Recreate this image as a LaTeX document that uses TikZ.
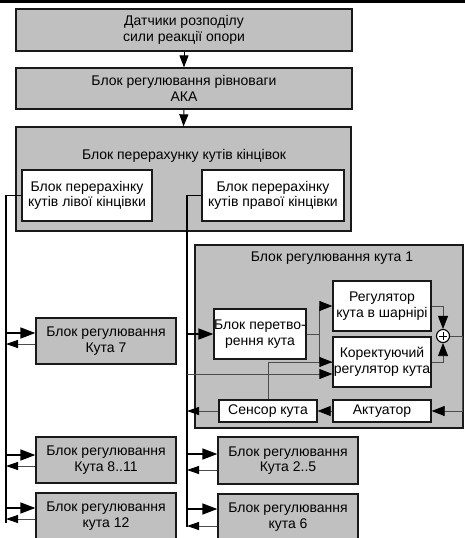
\documentclass[tikz,border=0pt]{standalone}
\usepackage{fontspec}
\setmainfont{Liberation Sans}
\usetikzlibrary{arrows.meta,calc}
\begin{document}
\begin{tikzpicture}[x=1pt,y=-1pt,
  font=\fontsize{14}{15.5}\selectfont,
  gbox/.style={draw=black!90,line width=1.3pt,fill=boxgray,inner sep=0pt,align=center},
  wbox/.style={draw=black!90,line width=1.3pt,fill=white,inner sep=0pt,align=center},
  mainln/.style={line width=1.6pt,black},
  thinln/.style={line width=0.8pt,black!70},
  arr/.style={-{Triangle[length=15pt,width=11pt,black]}},
  rarr/.style={-{Triangle[length=12pt,width=8pt,black]}},
  iarr/.style={-{Triangle[length=13pt,width=10pt,black]}}
]
\definecolor{boxgray}{HTML}{C0C0C0}
\useasboundingbox (0,0) rectangle (465,538);
\clip (0,0) rectangle (465,538);
\fill[black] (0,0) rectangle (465,2.5);

% top chain
\node[gbox,minimum width=336pt,minimum height=42pt] (d1) at (184,30) {Датчики розподілу\\сили реакції опори};
\node[gbox,minimum width=336pt,minimum height=41pt] (d2) at (184,88.5) {Блок регулювання рівноваги\\АКА};
\node[gbox,minimum width=335pt,minimum height=104pt] (d3) at (183.5,179) {};
\node (d3t) at (184,156) {Блок перерахунку кутів кінцівок};
\node[wbox,minimum width=130pt,minimum height=51pt] (L) at (87,195.5) {Блок перерахінку\\кутів лівої кінцівки};
\node[wbox,minimum width=142pt,minimum height=51pt] (R) at (273,195.5) {Блок перерахінку\\кутів правої кінцівки};
\draw[line width=1pt,black,-{Triangle[length=12pt,width=9pt,black]}] (d1.south) -- (d2.north);
\draw[line width=1pt,black,-{Triangle[length=12pt,width=9pt,black]}] (d2.south) -- (d3.north);

% angle 1 block
\node[gbox,minimum width=268pt,minimum height=183pt] (K1) at (329,336.5) {};
\node (K1t) at (332,258) {Блок регулювання кута 1};
\node[wbox,minimum width=92pt,minimum height=50pt] (P) at (260,334) {Блок перетво-\\рення кута};
\node[wbox,minimum width=98pt,minimum height=50pt] (Reg) at (382,306) {Регулятор\\кута в шарнірі};
\node[wbox,minimum width=98pt,minimum height=50pt] (Kor) at (382,362) {Коректуючий\\регулятор кута};
\node[wbox,minimum width=98pt,minimum height=22pt] (Sens) at (268,411) {Сенсор кута};
\node[wbox,minimum width=98pt,minimum height=22pt] (Act) at (382,411) {Актуатор};
\node[circle,draw=black,line width=1.1pt,fill=white,minimum size=13pt,inner sep=0pt] (sum) at (443,336) {};
\draw[line width=0.9pt] ([xshift=-4pt]sum.center) -- ([xshift=4pt]sum.center)
  ([yshift=-4pt]sum.center) -- ([yshift=4pt]sum.center);

% left column blocks
\node[gbox,minimum width=140pt,minimum height=46pt] (B7) at (106,341) {Блок регулювання\\Кута 7};
\node[gbox,minimum width=140pt,minimum height=46pt] (B811) at (106,460) {Блок регулювання\\Кута 8..11};
\node[gbox,minimum width=140pt,minimum height=46pt] (B12) at (106,516) {Блок регулювання\\кута 12};
\node[gbox,minimum width=140pt,minimum height=47pt] (B25) at (288,460.5) {Блок регулювання\\Кута 2..5};
\node[gbox,minimum width=140pt,minimum height=46pt] (B6) at (288,517) {Блок регулювання\\кута 6};

% bus lines
\coordinate (lb) at (6,523);
\coordinate (rb) at (187,527);
\draw[mainln] (L.west) -| (lb);
\draw[mainln] (R.west) -| (rb);

% bus connections
\path ([yshift=8pt]B7.west) coordinate (b7i) ([yshift=-3pt]B7.west) coordinate (b7o)
      ([yshift=5pt]B811.west) coordinate (b8i) ([yshift=-6pt]B811.west) coordinate (b8o)
      ([yshift=8pt]B12.west) coordinate (b12i) ([yshift=-3pt]B12.west) coordinate (b12o)
      ([yshift=6.5pt]B25.west) coordinate (b25i) ([yshift=-9.5pt]B25.west) coordinate (b25o)
      ([yshift=8pt]B6.west) coordinate (b6i) ([yshift=-9pt]B6.west) coordinate (b6o);
\draw[mainln,arr] (lb |- b7i) -- (b7i);
\draw[thinln,rarr] (b7o) -- (lb |- b7o);
\draw[mainln,arr] (lb |- b8i) -- (b8i);
\draw[thinln,rarr] (b8o) -- (lb |- b8o);
\draw[mainln,arr] (lb |- b12i) -- (b12i);
\draw[thinln,rarr] (b12o) -- (lb |- b12o);
\draw[mainln,arr] (rb |- b25i) -- (b25i);
\draw[thinln,rarr] (b25o) -- (rb |- b25o);
\draw[mainln,arr] (rb |- b6i) -- (b6i);
\draw[thinln,rarr] (b6o) -- (rb |- b6o);

% inner loop
\draw[mainln,arr] (rb |- P.west) -- (P.west);
\path ([yshift=-12pt]Kor.west) coordinate (kor2);
\draw[thinln,iarr] (rb |- kor2) -- (kor2);
\draw[thinln] (P.east) -- ++(13,0) coordinate (br);
\draw[thinln,iarr] (br) |- (Reg.west);
\draw[thinln] (br) |- (Kor.west);
\draw[thinln,iarr] (Sens.north) |- (Kor.west);
\draw[thinln,iarr] (Reg.east) -| (sum.north);
\draw[thinln,iarr] (Kor.east) -| (sum.south);
\coordinate (rc) at (462,411);
\draw[thinln,iarr] (sum.east) -| (rc) -- (Act.east);
\draw[thinln,iarr] (Act.west) -- (Sens.east);
\draw[thinln,rarr] (Sens.west) -- (rb |- Sens.west);
\end{tikzpicture}
\end{document}
